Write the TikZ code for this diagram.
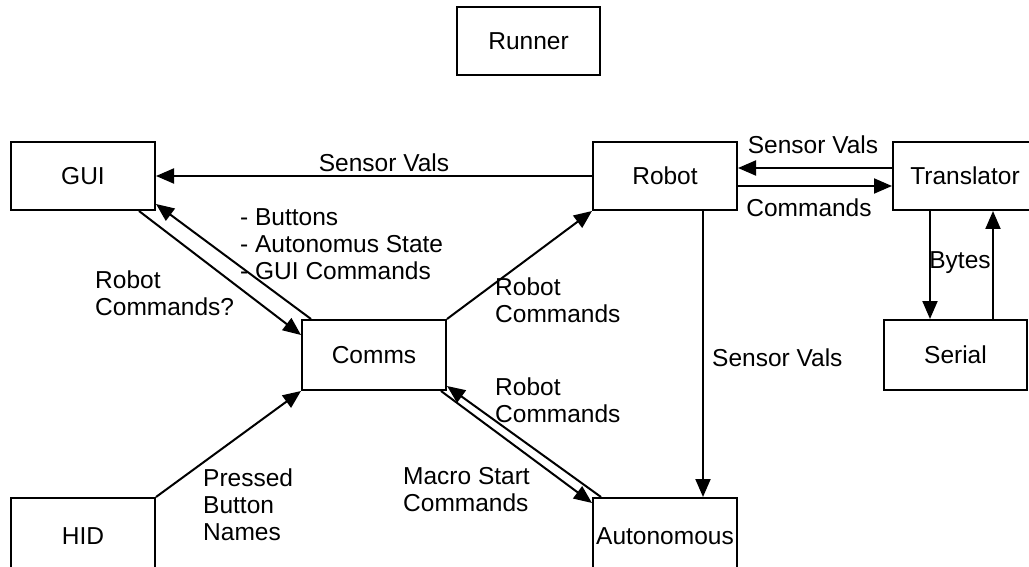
\documentclass[tikz,border=0pt]{standalone}
\usepackage{fontspec}
\setmainfont{Liberation Sans}
\usetikzlibrary{arrows.meta}
\begin{document}
\begin{tikzpicture}[x=1pt,y=-1pt,
  box/.style={draw, line width=2pt, rectangle, minimum width=144pt, minimum height=68pt,
              inner sep=0pt, font=\fontsize{24.5}{27}\selectfont},
  conn/.style={line width=2pt, -{Triangle[length=18pt,width=15pt]}},
  lbl/.style={inner sep=0pt, align=left, font=\fontsize{24.5}{27}\selectfont},
]
\useasboundingbox (0,0) rectangle (1029,567);
\clip (0,0) rectangle (1029,567);
\fill[white] (0,0) rectangle (1029,567);

% components
\node[box, minimum width=143pt] (runner) at (528.5,41) {Runner};
\node[box] (gui) at (83,176) {GUI};
\node[box] (robot) at (665,176) {Robot};
\node[box] (translator) at (965,176) {Translator};
\node[box, minimum height=70pt] (comms) at (374,355) {Comms};
\node[box, minimum width=143pt, minimum height=70pt] (serial) at (955.5,355) {Serial};
\node[box, minimum height=76pt] (hid) at (83,536) {HID};
\node[box, minimum height=76pt] (auto) at (665,536) {Autonomous};

% data flows
\draw[conn] (robot.west) -- (gui.east);
\draw[conn] ([yshift=8pt]translator.west) -- ([yshift=8pt]robot.east);
\draw[conn] ([yshift=-10pt]robot.east) -- ([yshift=-10pt]translator.west);
\draw[conn] ([xshift=-17pt]gui.south east) -- ([yshift=-16pt]comms.north west);
\draw[conn] ([xshift=10pt]comms.north west) -- ([yshift=7pt]gui.south east);
\draw[conn] (comms.north east) -- (robot.south west);
\draw[conn] (hid.north east) -- (comms.south west);
\draw[conn] ([xshift=-6pt]comms.south east) -- ([yshift=-6pt]auto.north west);
\draw[conn] ([xshift=9pt]auto.north west) -- ([yshift=5pt]comms.south east);
\draw[conn] ([xshift=38pt]robot.south) -- ([xshift=38pt]auto.north);
\draw[conn] ([xshift=-35pt]translator.south) -- ([xshift=-25.5pt]serial.north);
\draw[conn] ([xshift=37.5pt]serial.north) -- ([xshift=28pt]translator.south);

% flow labels
\node[lbl] (lsvgui) at (384,163) {Sensor Vals};
\node[lbl, anchor=west] (lgui) at (240,244.5) {- Buttons\\- Autonomus State\\- GUI Commands};
\node[lbl, anchor=west] (lrcq) at (95,293.5) {Robot\\Commands?};
\node[lbl, anchor=west] (lrc1) at (495,300) {Robot\\Commands};
\node[lbl, anchor=west] (lrc2) at (495,400.5) {Robot\\Commands};
\node[lbl, anchor=west] (lmacro) at (403,489.5) {Macro Start\\Commands};
\node[lbl, anchor=west] (lpress) at (203,504.5) {Pressed\\Button\\Names};
\node[lbl, anchor=west] (lsvauto) at (712,358) {Sensor Vals};
\node[lbl] (lsvtr) at (813,145) {Sensor Vals};
\node[lbl] (lcmd) at (809,208) {Commands};
\node[lbl] (lbytes) at (960,263) {Bytes};
\end{tikzpicture}
\end{document}
